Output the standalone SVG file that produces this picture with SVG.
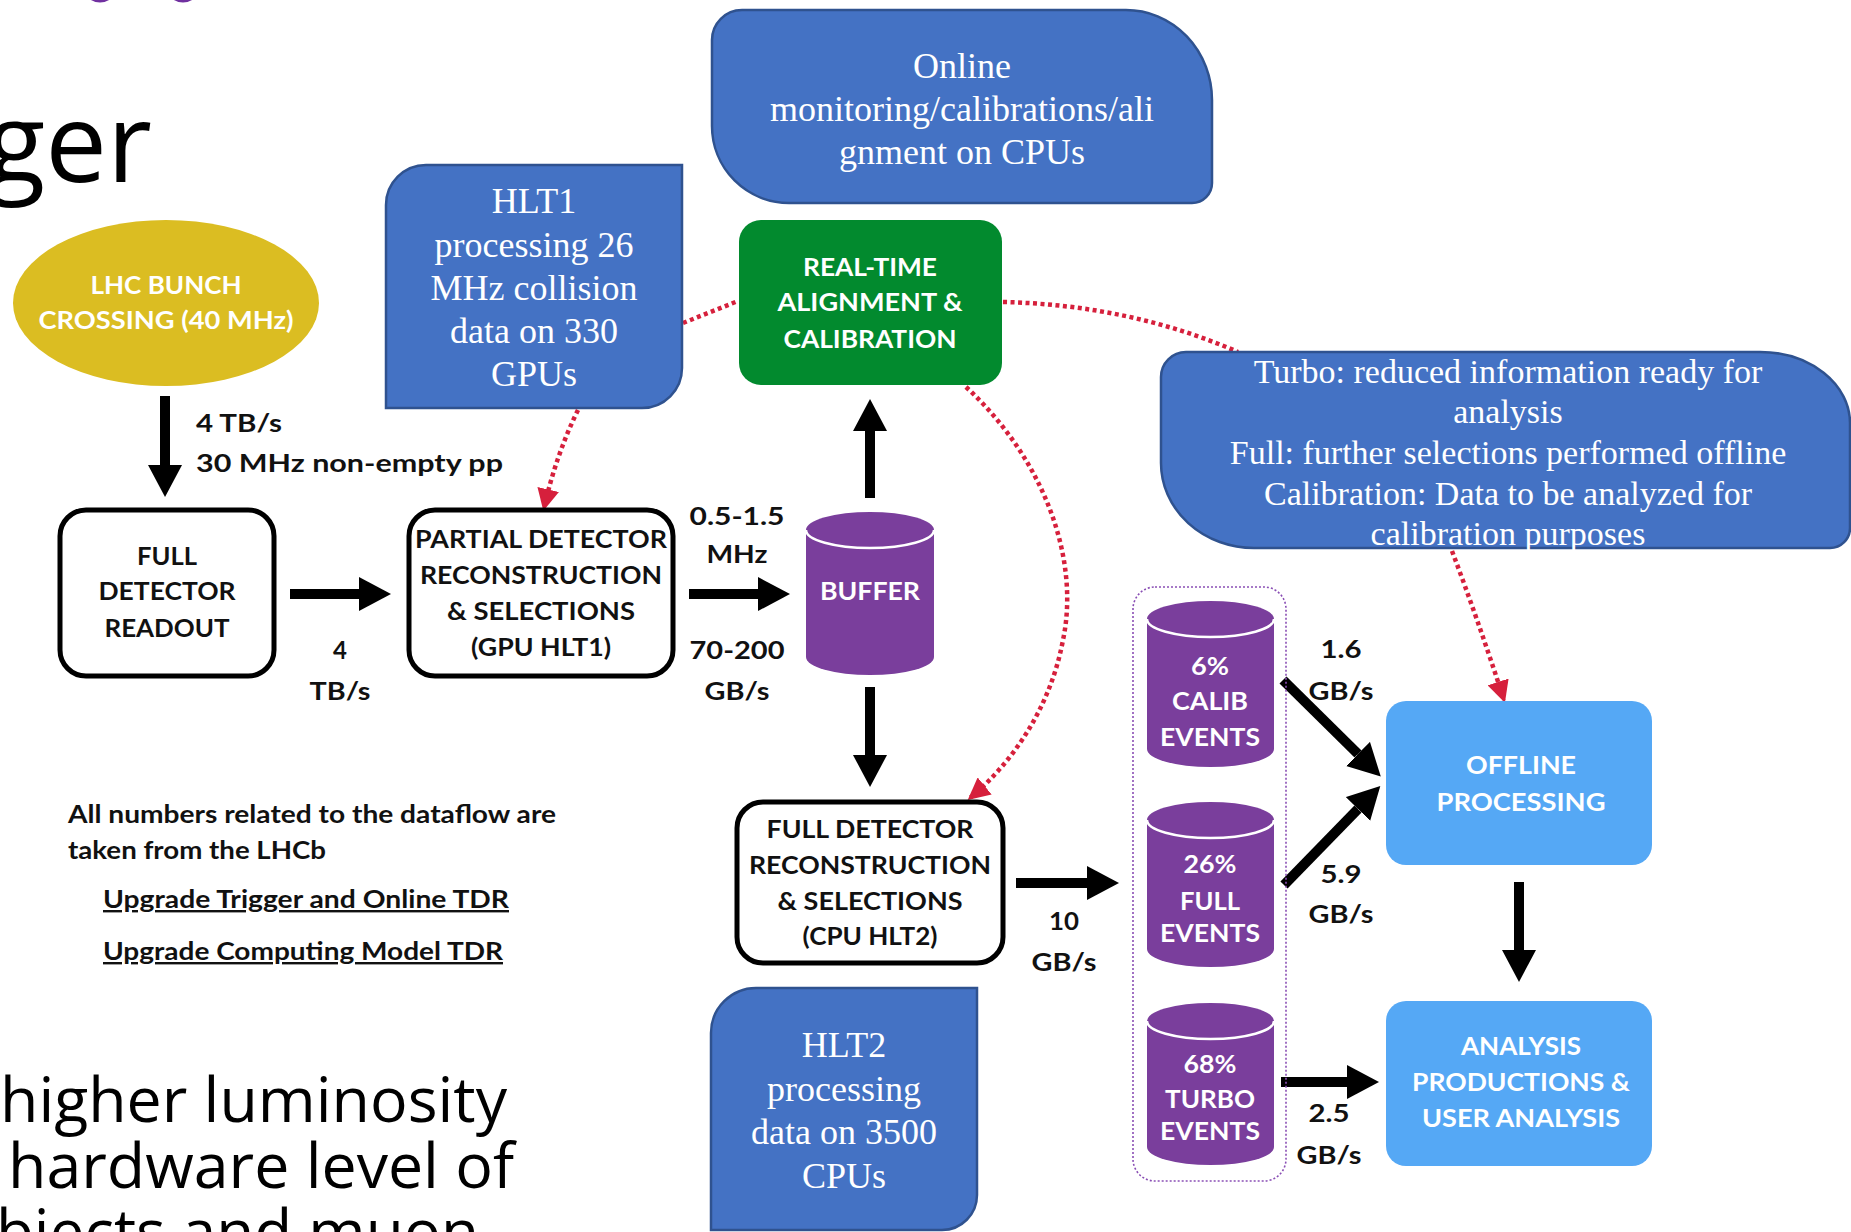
<svg xmlns="http://www.w3.org/2000/svg" width="1851" height="1232" viewBox="0 0 1851 1232">
<defs>
<style>
.lb{font-family:Lato,"Noto Sans","Liberation Sans",sans-serif;font-weight:700;font-size:24px;fill:#111;text-anchor:middle}
.lw{font-family:Lato,"Noto Sans","Liberation Sans",sans-serif;font-weight:700;font-size:24px;fill:#fff;text-anchor:middle}
.ls{text-anchor:start}
.sf{font-family:"Liberation Serif","Times New Roman",serif;font-size:36px;fill:#fff;text-anchor:middle}
.st{font-size:34px}
.blk{fill:#fff;stroke:#000;stroke-width:5}
.blue{fill:#4472C4;stroke:#2F528F;stroke-width:2.5}
.cyl{fill:#7A3E9C}
.cyltop{fill:none;stroke:#fff;stroke-width:2.5}
.arr{stroke:#000;stroke-width:10;fill:none;marker-end:url(#ah)}
.dot{stroke:#D6203C;stroke-width:4.5;stroke-dasharray:4 3.5;fill:none}
.big{font-family:"Open Sans","Noto Sans",sans-serif;fill:#000}
</style>
<marker id="ah" viewBox="0 0 32 34" refX="0" refY="17" markerWidth="32" markerHeight="34" markerUnits="userSpaceOnUse" orient="auto"><path d="M0 0 L32 17 L0 34 Z" fill="#000"/></marker>
<marker id="rh" viewBox="0 0 22 22" refX="19" refY="11" markerWidth="22" markerHeight="22" markerUnits="userSpaceOnUse" orient="auto"><path d="M0 0 L22 11 L0 22 Z" fill="#D6203C"/></marker>
</defs>
<rect width="1851" height="1232" fill="#fff"/>

<!-- slide background fragments -->
<g id="slide-bg">
<ellipse cx="100" cy="-5" rx="12" ry="7.5" fill="#7030A0"/>
<ellipse cx="183" cy="-5" rx="12" ry="7.5" fill="#7030A0"/>
<text class="big" x="152" y="182" font-size="110" text-anchor="end">ger</text>
<text class="big" x="0" y="1122" font-size="62" textLength="507" lengthAdjust="spacingAndGlyphs">higher luminosity</text>
<text class="big" x="8" y="1188" font-size="62" textLength="506" lengthAdjust="spacingAndGlyphs">hardware level of</text>
<text class="big" x="479" y="1254" font-size="62" text-anchor="end">objects and muon</text>
</g>

<!-- connectors -->
<g id="connectors">
<line class="arr" x1="165" y1="396" x2="165" y2="465"/>
<line class="arr" x1="290" y1="594" x2="359" y2="594"/>
<line class="arr" x1="689" y1="594" x2="758" y2="594"/>
<line class="arr" x1="870" y1="498" x2="870" y2="431"/>
<line class="arr" x1="870" y1="687" x2="870" y2="755"/>
<line class="arr" x1="1016" y1="883" x2="1087" y2="883"/>
<line class="arr" x1="1283" y1="680" x2="1358" y2="754"/>
<line class="arr" x1="1284" y1="885" x2="1358" y2="809"/>
<line class="arr" x1="1519" y1="882" x2="1519" y2="950"/>
<line class="arr" x1="1281" y1="1082" x2="1347" y2="1082"/>
<path class="dot" d="M578 410 Q556 455 544 508" marker-end="url(#rh)"/>
<path class="dot" d="M683 323 L738 301"/>
<path class="dot" d="M1003 302 Q1130 305 1238 352"/>
<path class="dot" d="M966 387 C1045 460 1080 560 1063 640 C1050 710 1010 765 970 798" marker-end="url(#rh)"/>
<path class="dot" d="M1452 551 Q1478 620 1504 700" marker-end="url(#rh)"/>
</g>

<g id="lhc">
<ellipse cx="166" cy="303" rx="153" ry="83" fill="#DBBD22"/>
<text class="lw" x="166" y="294" textLength="151" lengthAdjust="spacingAndGlyphs">LHC BUNCH</text>
<text class="lw" x="166" y="329" textLength="255" lengthAdjust="spacingAndGlyphs">CROSSING (40 MHz)</text>
</g>

<g id="rate1">
<text class="lb ls" x="196" y="432" font-size="25" textLength="86" lengthAdjust="spacingAndGlyphs">4 TB/s</text>
<text class="lb ls" x="196" y="472" font-size="25" textLength="307" lengthAdjust="spacingAndGlyphs">30 MHz non-empty pp</text>
</g>

<g id="readout">
<rect class="blk" x="60" y="510" width="214" height="166" rx="26"/>
<text class="lb" x="167" y="565" textLength="60" lengthAdjust="spacingAndGlyphs">FULL</text>
<text class="lb" x="167" y="600" textLength="137" lengthAdjust="spacingAndGlyphs">DETECTOR</text>
<text class="lb" x="167" y="637" textLength="125" lengthAdjust="spacingAndGlyphs">READOUT</text>
</g>

<g id="rate2">
<text class="lb" x="340" y="659">4</text>
<text class="lb" x="340" y="700" textLength="61" lengthAdjust="spacingAndGlyphs">TB/s</text>
</g>

<g id="hlt1-note">
<path class="blue" d="M426 165 H682 V368 A40 40 0 0 1 642 408 H386 V205 A40 40 0 0 1 426 165 Z"/>
<text class="sf" x="534" y="213">HLT1</text>
<text class="sf" x="534" y="257">processing 26</text>
<text class="sf" x="534" y="300">MHz collision</text>
<text class="sf" x="534" y="343">data on 330</text>
<text class="sf" x="534" y="386">GPUs</text>
</g>

<g id="partial">
<rect class="blk" x="409" y="510" width="264" height="166" rx="26"/>
<text class="lb" x="541" y="548" textLength="252" lengthAdjust="spacingAndGlyphs">PARTIAL DETECTOR</text>
<text class="lb" x="541" y="584" textLength="242" lengthAdjust="spacingAndGlyphs">RECONSTRUCTION</text>
<text class="lb" x="541" y="620" textLength="188" lengthAdjust="spacingAndGlyphs">&amp; SELECTIONS</text>
<text class="lb" x="541" y="656" textLength="140" lengthAdjust="spacingAndGlyphs">(GPU HLT1)</text>
</g>

<g id="rate3">
<text class="lb" x="737" y="525" textLength="95" lengthAdjust="spacingAndGlyphs">0.5-1.5</text>
<text class="lb" x="737" y="563" textLength="61" lengthAdjust="spacingAndGlyphs">MHz</text>
<text class="lb" x="737" y="659" textLength="95" lengthAdjust="spacingAndGlyphs">70-200</text>
<text class="lb" x="737" y="700" textLength="65" lengthAdjust="spacingAndGlyphs">GB/s</text>
</g>

<g id="buffer">
<path class="cyl" d="M806 530 V657 A64 18 0 0 0 934 657 V530 A64 18 0 0 0 806 530 Z"/>
<path class="cyltop" d="M806 530 A64 18 0 0 0 934 530"/>
<text class="lw" x="870" y="600" textLength="100" lengthAdjust="spacingAndGlyphs">BUFFER</text>
</g>

<g id="online-note">
<path class="blue" d="M742 10 H1126 A86 90 0 0 1 1212 100 V183 A20 20 0 0 1 1192 203 H789 A77 77 0 0 1 712 126 V40 A30 30 0 0 1 742 10 Z"/>
<text class="sf" x="962" y="78">Online</text>
<text class="sf" x="962" y="121">monitoring/calibrations/ali</text>
<text class="sf" x="962" y="164">gnment on CPUs</text>
</g>

<g id="realtime">
<rect x="739" y="220" width="263" height="165" rx="22" fill="#028A2E"/>
<text class="lw" x="870" y="276" textLength="134" lengthAdjust="spacingAndGlyphs">REAL-TIME</text>
<text class="lw" x="870" y="311" textLength="185" lengthAdjust="spacingAndGlyphs">ALIGNMENT &amp;</text>
<text class="lw" x="870" y="348" textLength="173" lengthAdjust="spacingAndGlyphs">CALIBRATION</text>
</g>

<g id="full-recon">
<rect class="blk" x="737" y="802" width="266" height="161" rx="26"/>
<text class="lb" x="870" y="838" textLength="207" lengthAdjust="spacingAndGlyphs">FULL DETECTOR</text>
<text class="lb" x="870" y="874" textLength="242" lengthAdjust="spacingAndGlyphs">RECONSTRUCTION</text>
<text class="lb" x="870" y="910" textLength="185" lengthAdjust="spacingAndGlyphs">&amp; SELECTIONS</text>
<text class="lb" x="870" y="945" textLength="135" lengthAdjust="spacingAndGlyphs">(CPU HLT2)</text>
</g>

<g id="hlt2-note">
<path class="blue" d="M756 988 H977 V1195 A35 35 0 0 1 942 1230 H711 V1033 A45 45 0 0 1 756 988 Z"/>
<text class="sf" x="844" y="1057">HLT2</text>
<text class="sf" x="844" y="1101">processing</text>
<text class="sf" x="844" y="1144">data on 3500</text>
<text class="sf" x="844" y="1188">CPUs</text>
</g>

<g id="rate4">
<text class="lb" x="1064" y="930" textLength="30" lengthAdjust="spacingAndGlyphs">10</text>
<text class="lb" x="1064" y="971" textLength="65" lengthAdjust="spacingAndGlyphs">GB/s</text>
</g>

<g id="event-streams">
<rect x="1133" y="587" width="153" height="594" rx="22" fill="none" stroke="#8A4FB5" stroke-width="1.6" stroke-dasharray="2 2"/>
</g>

<g id="calib">
<path class="cyl" d="M1147 619 V749 A63.5 18 0 0 0 1274 749 V619 A63.5 18 0 0 0 1147 619 Z"/>
<path class="cyltop" d="M1147 619 A63.5 18 0 0 0 1274 619"/>
<text class="lw" x="1210" y="675" textLength="38" lengthAdjust="spacingAndGlyphs">6%</text>
<text class="lw" x="1210" y="710" textLength="76" lengthAdjust="spacingAndGlyphs">CALIB</text>
<text class="lw" x="1210" y="746" textLength="100" lengthAdjust="spacingAndGlyphs">EVENTS</text>
</g>

<g id="full-events">
<path class="cyl" d="M1147 820 V949 A63.5 18 0 0 0 1274 949 V820 A63.5 18 0 0 0 1147 820 Z"/>
<path class="cyltop" d="M1147 820 A63.5 18 0 0 0 1274 820"/>
<text class="lw" x="1210" y="873" textLength="53" lengthAdjust="spacingAndGlyphs">26%</text>
<text class="lw" x="1210" y="910" textLength="60" lengthAdjust="spacingAndGlyphs">FULL</text>
<text class="lw" x="1210" y="942" textLength="100" lengthAdjust="spacingAndGlyphs">EVENTS</text>
</g>

<g id="turbo-events">
<path class="cyl" d="M1147 1021 V1147 A63.5 18 0 0 0 1274 1147 V1021 A63.5 18 0 0 0 1147 1021 Z"/>
<path class="cyltop" d="M1147 1021 A63.5 18 0 0 0 1274 1021"/>
<text class="lw" x="1210" y="1073" textLength="53" lengthAdjust="spacingAndGlyphs">68%</text>
<text class="lw" x="1210" y="1108" textLength="90" lengthAdjust="spacingAndGlyphs">TURBO</text>
<text class="lw" x="1210" y="1140" textLength="100" lengthAdjust="spacingAndGlyphs">EVENTS</text>
</g>

<g id="rate5">
<text class="lb" x="1341" y="658" textLength="41" lengthAdjust="spacingAndGlyphs">1.6</text>
<text class="lb" x="1341" y="700" textLength="65" lengthAdjust="spacingAndGlyphs">GB/s</text>
<text class="lb" x="1341" y="883" textLength="41" lengthAdjust="spacingAndGlyphs">5.9</text>
<text class="lb" x="1341" y="923" textLength="65" lengthAdjust="spacingAndGlyphs">GB/s</text>
<text class="lb" x="1329" y="1122" textLength="41" lengthAdjust="spacingAndGlyphs">2.5</text>
<text class="lb" x="1329" y="1164" textLength="65" lengthAdjust="spacingAndGlyphs">GB/s</text>
</g>

<g id="stream-note">
<path class="blue" d="M1186 352 H1760 A90 71 0 0 1 1850 423 V528 A20 20 0 0 1 1830 548 H1254 A93 85 0 0 1 1161 463 V377 A25 25 0 0 1 1186 352 Z"/>
<text class="sf st" x="1508" y="383">Turbo: reduced information ready for</text>
<text class="sf st" x="1508" y="423">analysis</text>
<text class="sf st" x="1508" y="464">Full: further selections performed offline</text>
<text class="sf st" x="1508" y="505">Calibration: Data to be analyzed for</text>
<text class="sf st" x="1508" y="545">calibration purposes</text>
</g>

<g id="offline">
<rect x="1386" y="701" width="266" height="164" rx="20" fill="#55A8F5"/>
<text class="lw" x="1521" y="774" textLength="110" lengthAdjust="spacingAndGlyphs">OFFLINE</text>
<text class="lw" x="1521" y="811" textLength="169" lengthAdjust="spacingAndGlyphs">PROCESSING</text>
</g>

<g id="analysis">
<rect x="1386" y="1001" width="266" height="165" rx="20" fill="#55A8F5"/>
<text class="lw" x="1521" y="1055" textLength="120" lengthAdjust="spacingAndGlyphs">ANALYSIS</text>
<text class="lw" x="1521" y="1091" textLength="218" lengthAdjust="spacingAndGlyphs">PRODUCTIONS &amp;</text>
<text class="lw" x="1521" y="1127" textLength="198" lengthAdjust="spacingAndGlyphs">USER ANALYSIS</text>
</g>

<g id="source-note">
<text class="lb ls" x="68" y="823" textLength="488" lengthAdjust="spacingAndGlyphs">All numbers related to the dataflow are</text>
<text class="lb ls" x="68" y="859" textLength="258" lengthAdjust="spacingAndGlyphs">taken from the LHCb</text>
<text class="lb ls" x="103" y="908" font-weight="600" textLength="406" lengthAdjust="spacingAndGlyphs" text-decoration="underline">Upgrade Trigger and Online TDR</text>
<text class="lb ls" x="103" y="960" font-weight="600" textLength="400" lengthAdjust="spacingAndGlyphs" text-decoration="underline">Upgrade Computing Model TDR</text>
</g>
</svg>
